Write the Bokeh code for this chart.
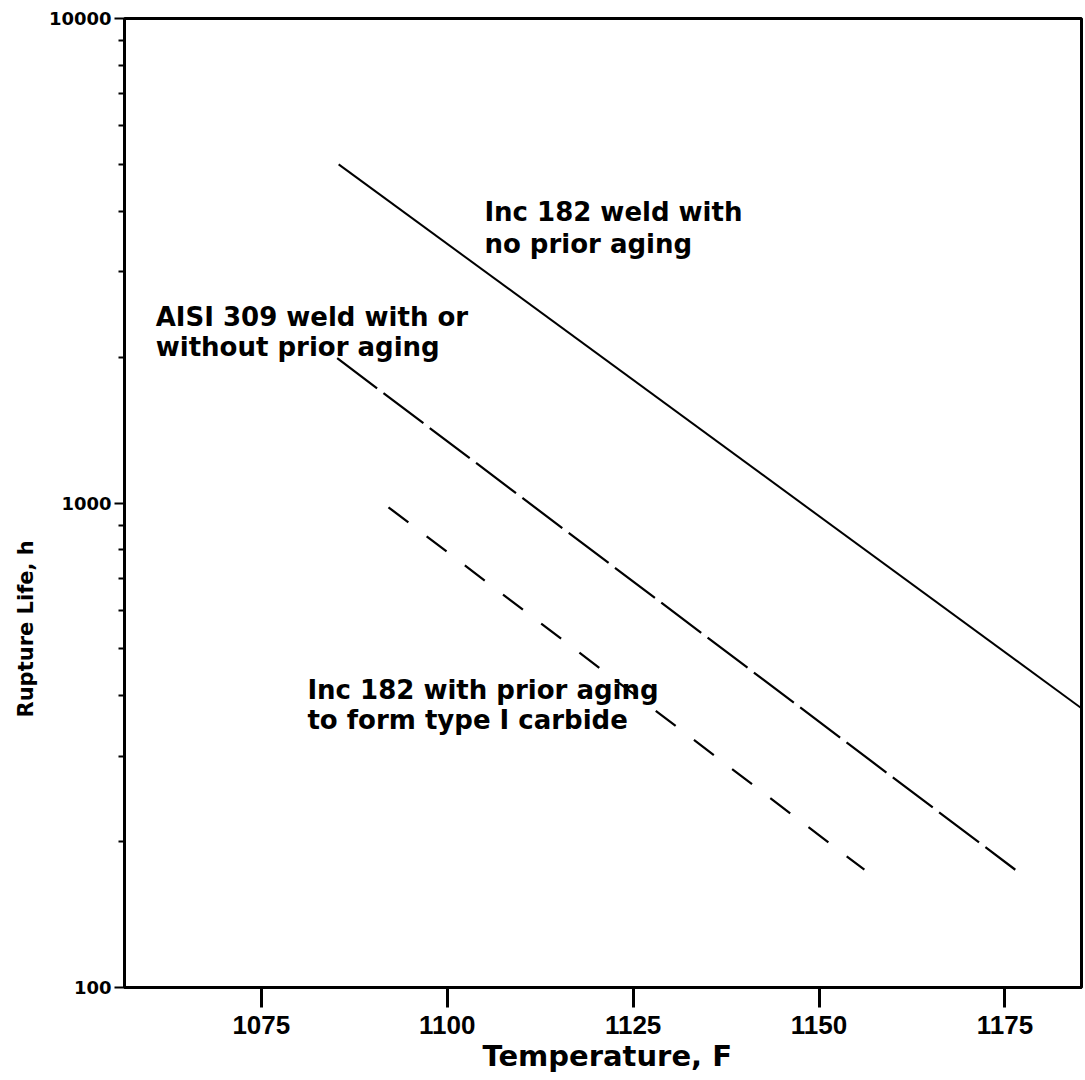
from bokeh.plotting import figure
from bokeh.models import Range1d, FixedTicker, PrintfTickFormatter, Label, Title
from bokeh.embed import file_html
from bokeh.resources import INLINE

# ---- data ----
x_ticks = [1075, 1100, 1125, 1150, 1175]
y_ticks = [100, 1000, 10000]
y_minor = [200, 300, 400, 500, 600, 700, 800, 900,
           2000, 3000, 4000, 5000, 6000, 7000, 8000, 9000]

inc182_no_aging_T = [1085.4, 1185.3]
inc182_no_aging_life = [5000, 377]

aisi309_T = [1085.2, 1176.4]
aisi309_life = [1990, 175]

inc182_aged_T = [1092.1, 1156.1]
inc182_aged_life = [980, 175]

note_no_aging = ["Inc 182 weld with", "no prior aging"]
note_aisi = ["AISI 309 weld with or", "without prior aging"]
note_aged = ["Inc 182 with prior aging", "to form type I carbide"]

x_title = "Temperature, F"
y_title = "Rupture Life, h"

# ---- figure ----
p = figure(width=1085, height=1080, output_backend="svg", toolbar_location=None,
           x_range=Range1d(1056.6, 1185.3), y_range=Range1d(100, 10000),
           y_axis_type="log",
           min_border_left=124, min_border_right=4, min_border_top=18,
           min_border_bottom=93)
p.background_fill_color = "white"
p.border_fill_color = "white"
p.grid.visible = False
p.outline_line_color = "black"
p.outline_line_width = 3

# x axis
p.xaxis.ticker = FixedTicker(ticks=x_ticks)
p.xaxis.axis_line_width = 3
p.xaxis.major_tick_out = 20
p.xaxis.major_tick_in = 0
p.xaxis.major_tick_line_width = 3
p.xaxis.minor_tick_line_color = None
p.xaxis.major_label_standoff = 8
p.xaxis.major_label_text_font = "Liberation Sans"
p.xaxis.major_label_text_font_size = "26px"
p.xaxis.major_label_text_font_style = "bold"
p.xaxis.major_label_text_color = "black"

# y axis
p.yaxis.ticker = FixedTicker(ticks=y_ticks, minor_ticks=y_minor)
p.yaxis.formatter = PrintfTickFormatter(format="%d")
p.yaxis.axis_line_width = 3
p.yaxis.major_tick_out = 10
p.yaxis.major_tick_in = 0
p.yaxis.major_tick_line_width = 2
p.yaxis.minor_tick_out = 6
p.yaxis.minor_tick_in = 0
p.yaxis.minor_tick_line_width = 2
p.yaxis.major_label_standoff = 3
p.yaxis.major_label_text_font = "DejaVu Sans"
p.yaxis.major_label_text_font_size = "18px"
p.yaxis.major_label_text_font_style = "bold"
p.yaxis.major_label_text_color = "black"

# lines
p.line(inc182_no_aging_T, inc182_no_aging_life, line_color="black", line_width=2)
p.line(aisi309_T, aisi309_life, line_color="black", line_width=2.2, line_dash="50 8")
p.line(inc182_aged_T, inc182_aged_life, line_color="black", line_width=2.2, line_dash="25 23")

def add_note(lines, x, ys):
    for t, y in zip(lines, ys):
        p.add_layout(Label(x=x, y=y, text=t, text_font="DejaVu Sans",
                           text_font_size="26px", text_font_style="bold",
                           text_color="black", text_baseline="alphabetic",
                           text_align="left"))

add_note(note_no_aging, 1105.0, [3978, 3432])
add_note(note_aisi, 1060.8, [2426, 2094])
add_note(note_aged, 1081.2, [412, 356])

# axis titles
p.add_layout(Title(text=x_title, align="left", offset=358, standoff=0,
                   text_font="DejaVu Sans", text_font_size="29px",
                   text_font_style="bold", text_color="black"), "below")
p.add_layout(Title(text=y_title, align="left", offset=270, standoff=16,
                   text_font="DejaVu Sans", text_font_size="21px",
                   text_font_style="bold", text_color="black"), "left")

open("out.html", "w").write(file_html(p, INLINE))
